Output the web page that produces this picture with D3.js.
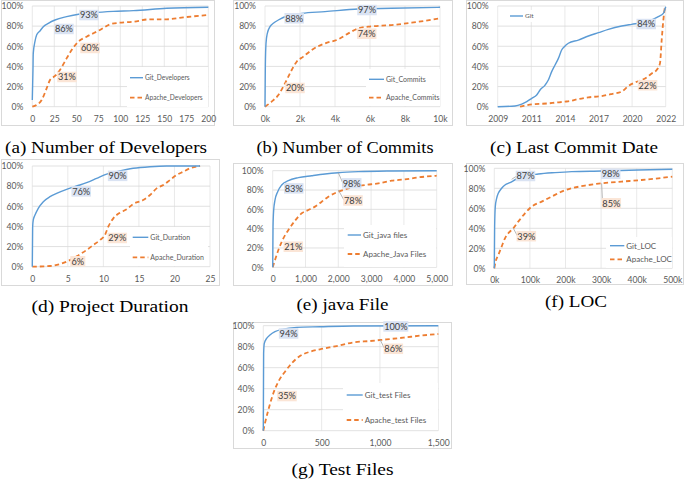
<!DOCTYPE html>
<html><head><meta charset="utf-8">
<script src="https://cdn.jsdelivr.net/npm/d3@7"></script>
<style>body{margin:0;background:#fff}svg{display:block}
.cap{font-family:"Liberation Serif","Times New Roman",serif;font-size:17px;}
</style>
</head><body>
<svg id="c" width="685" height="479"></svg>
<script>
// ---------- DATA (x value, cumulative %) ----------
const gitDevelopers = [[0,6.6],[0.76,36.4],[1.1,53],[3,64.6],[4.9,71.2],[8.7,75.2],[12.5,79.5],[18.2,82.8],[25.8,86.1],[39,89.4],[54.2,92],[69.3,93.4],[92,94.7],[114.8,95.4],[152.7,97.7],[200,98.7]];
const apacheDevelopers = [[0,0],[4.9,1.7],[10.6,6.6],[16.3,18.2],[20.1,26.5],[25.8,30.5],[31.4,36.4],[39,48],[44.7,56.3],[52.3,64.6],[61.7,69.5],[76.9,76.2],[88.3,81.8],[99.6,83.4],[114.8,84.4],[133.7,86.8],[152.7,86.8],[171.6,88.7],[200,91.1]];

const gitCommits = [[0,0],[19,39.7],[57,62.9],[133,72.8],[286,79.5],[476,82.8],[762,86.1],[1238,90.1],[2096,92.7],[3429,94.4],[5334,97],[7239,97.7],[10000,98.7]];
const apacheCommits = [[0,0],[381,5],[762,11.6],[1143,23.2],[1524,36.4],[1810,44.7],[2190,49.7],[2667,56.3],[3429,62.9],[4190,66.9],[4762,72.8],[5333,77.8],[5905,79.5],[7240,81.1],[8380,83.4],[10000,87.7]];

const gitLastCommit = [[2009,0],[2010.03,0.7],[2010.43,2.6],[2010.73,5],[2011.04,8.3],[2011.48,11.6],[2011.78,16.6],[2012.23,21.5],[2012.52,26.5],[2012.82,34.8],[2013.12,41.4],[2013.42,48],[2013.71,56.3],[2013.95,59.6],[2014.31,63],[2015.2,66.2],[2016.1,70.2],[2016.99,73.5],[2017.88,76.8],[2019.07,80.1],[2019.96,81.8],[2020.57,83.4],[2021.17,86.1],[2021.56,89.4],[2021.86,92.7],[2022,99.3]];
const apacheLastCommit = [[2010.33,0],[2011.04,2.3],[2012.52,3.3],[2013.12,4],[2014.01,5],[2014.46,5.6],[2015.2,7.6],[2016.1,9.3],[2017.28,10.6],[2018.17,12.6],[2019.07,15],[2019.66,20.5],[2020.28,24.8],[2020.77,28],[2021.17,33],[2021.46,36.4],[2021.66,43],[2021.76,66],[2021.86,86],[2021.96,100]];

const gitDuration = [[0,0],[0.05,39.7],[0.14,46.4],[0.38,51.3],[0.84,58],[1.55,64.6],[2.49,69.5],[3.42,72.8],[4.83,76.8],[6.24,80.1],[7.64,83.4],[9.05,87.7],[10.46,92],[11.87,94.4],[14.2,97.7],[16.56,99.3],[18.9,100],[23.6,100]];
const apacheDuration = [[0,0],[2.49,0.7],[3.89,2.6],[4.83,5],[5.77,8.3],[6.71,12.3],[7.64,16.6],[8.58,21.5],[9.52,26.5],[10.22,31.5],[10.69,39.7],[11.4,48],[12.33,53.6],[13.27,57],[14.2,62.3],[15.6,66.2],[16.56,71.2],[17.49,77.8],[18.43,81.1],[19.37,86.1],[20.31,91.1],[21.25,94.4],[22.18,97.7],[23.6,100]];

const gitJavaFiles = [[0,0],[10,42],[30,59.3],[71,69.7],[152,78.3],[274,85.2],[478,89.7],[782,92.8],[1189,94.8],[1595,96.6],[2002,97.9],[2611,99],[3627,99.7],[5000,100]];
const apacheJavaFiles = [[0,0],[71,7.6],[173,17.9],[325,30],[478,38.6],[681,48.3],[884,55.9],[1087,59.3],[1290,62.8],[1494,67.9],[1697,73.1],[1951,77.6],[2154,80],[2408,82.8],[2814,85.2],[3221,86.9],[3627,89.7],[4034,91],[4440,93.1],[5000,94.8]];

const gitLOC = [[0,0],[0.94,41.7],[2.8,61.7],[6.6,70],[11.2,75],[20.6,80],[30,83.3],[44,85.7],[62.7,89.3],[86.1,92.3],[123.6,94.3],[170.4,95.7],[217.2,96.7],[301.5,97.3],[404.5,98.3],[500,99]];
const apacheLOC = [[0,0],[3.7,6.7],[11.2,13.3],[20.6,21.7],[30,30],[39.3,35],[53.4,40],[67.4,46.7],[86.1,55],[104.9,61.7],[133,66.7],[161,71.7],[189,76.7],[217,80],[254.7,82.7],[301.5,85],[357.7,86.7],[413.8,88.3],[460.7,90],[500,91.7]];

const gitTestFiles = [[0,0],[2.9,73.7],[8.6,83.2],[28.6,87.9],[57,91.1],[100,94.3],[171,96.8],[286,98.4],[486,99],[771,99.7],[1500,100]];
const apacheTestFiles = [[0,0],[14,7],[43,19.7],[86,35.6],[129,46.7],[186,56.2],[243,64.1],[314,71.1],[400,75.2],[486,77.5],[629,80.6],[771,84.1],[914,85.4],[1057,87],[1200,88.6],[1343,90.5],[1500,92.1]];

// tick values
const yTicks = [0,20,40,60,80,100];
const ticksDevelopers = [0,25,50,75,100,125,150,175,200];
const ticksCommits = [0,2000,4000,6000,8000,10000];
const ticksYears = [2009,2011,2014,2017,2020,2022];
const ticksDuration = [0,5,10,15,20,25];
const ticksJava = [0,1000,2000,3000,4000,5000];
const ticksLOC = [0,100,200,300,400,500];
const ticksTest = [0,500,1000,1500];

// annotation labels: [text, x, y, kind, anchorX, anchorY]
const labelsDevelopers = [["93%",64.4,91,"g"],["86%",36,77.2,"g"],["60%",65.6,58.3,"a"],["31%",39.4,29.5,"a"]];
const labelsCommits = [["88%",1669,87.8,"g"],["97%",5829,96,"g"],["74%",5811,72.5,"a"],["20%",1714,18.6,"a"]];
const labelsLastCommit = [["84%",2020.84,82.1,"g"],["22%",2020.92,21.3,"a"]];
const labelsDuration = [["90%",12,90.2,"g"],["76%",6.88,74.8,"g"],["29%",11.96,28.5,"a"],["6%",6.4,5.4,"a"]];
const labelsJava = [["83%",643,81.7,"g"],["98%",2409,86.9,"g",2000,97.9],["78%",2448,69.2,"a",2000,80],["21%",628,21.3,"a"]];
const labelsLOC = [["87%",87.6,92.3,"g",48.7,89],["98%",327,94.5,"g"],["85%",328.7,65,"a",301.5,85],["39%",90,32.1,"a",53.4,40]];
const labelsTest = [["94%",217,92.6,"g"],["100%",1136,99.3,"g"],["86%",1115,78,"a",1000,87],["35%",203,33,"a"]];

// ---------- LAYOUT ----------
const BLUE = "#5b9bd5", ORANGE = "#ed7d31";
const panels = [
 {frame:[1,0,215,126], L:32.3,R:208.3,B:106.7,T:6, xd:[0,200], xt:ticksDevelopers, fmt:d=>d,
  git:gitDevelopers, apache:apacheDevelopers, names:["Git_Developers","Apache_Developers"],
  leg:{x:130,y:[77.7,97.7],len:13,fs:6.6,box:[127,67,81,40]}, labels:labelsDevelopers,
  cap:["(a) Number of Developers",106,152.5,202]},
 {frame:[233,0,453,126], L:265,R:440,B:106.7,T:6, xd:[0,10000], xt:ticksCommits, fmt:d=>(d/1000)+"k",
  git:gitCommits, apache:apacheCommits, names:["Git_Commits","Apache_Commits"],
  leg:{x:369,y:[79.3,97.7],len:15,fs:7,box:[366,69,74,37]}, labels:labelsCommits,
  cap:["(b) Number of Commits",345,152.5,177]},
 {frame:[466,0,684,126], L:497.7,R:665.7,B:106.7,T:6, xd:ticksYears, xt:ticksYears, fmt:d=>d, poly:true,
  git:gitLastCommit, apache:apacheLastCommit, names:["Git"],
  leg:{x:510,y:[16],len:13,fs:6.5,box:[507,10,36,12]}, labels:labelsLastCommit,
  cap:["(c) Last Commit Date",574,152.5,168]},
 {frame:[1,159,220,286], L:32.3,R:210,B:266.7,T:166, xd:[0,25], xt:ticksDuration, fmt:d=>d,
  git:gitDuration, apache:apacheDuration, names:["Git_Duration","Apache_Duration"],
  leg:{x:132.7,y:[237.3,257.3],len:15.6,fs:7,box:[130,227,78,39]}, labels:labelsDuration,
  cap:["(d) Project Duration",110,311.5,157]},
 {frame:[233,163,453,286], L:272.7,R:436.7,B:267.3,T:170.7, xd:[0,5000], xt:ticksJava, fmt:d3.format(","),
  git:gitJavaFiles, apache:apacheJavaFiles, names:["Git_java files","Apache_Java Files"],
  leg:{x:347.7,y:[235,254],len:13.3,fs:8,box:[344,225,92,42]}, labels:labelsJava,
  cap:["(e) java File",342.5,310,92]},
 {frame:[466,163,684,285], L:494.3,R:672.3,B:268.3,T:168.3, xd:[0,500], xt:ticksLOC, fmt:d=>d+"k",
  git:gitLOC, apache:apacheLOC, names:["Git_LOC","Apache_LOC"],
  leg:{x:610,y:[245.7,259.3],len:14.3,fs:8,box:[606,237,66,31]}, labels:labelsLOC,
  cap:["(f) LOC",576,307,62]},
 {frame:[233,322,452,449], L:263.3,R:438.3,B:430.7,T:325.7, xd:[0,1500], xt:ticksTest, fmt:d3.format(","),
  git:gitTestFiles, apache:apacheTestFiles, names:["Git_test Files","Apache_test Files"],
  leg:{x:346.7,y:[395,420],len:16,fs:8,box:[343,383,95,47]}, labels:labelsTest,
  cap:["(g) Test Files",342.5,475,102]}
];

const svg = d3.select("#c");
const TICKFONT = "Lato, 'Open Sans', sans-serif";

panels.forEach(p => {
  const g = svg.append("g");
  const [fx0,fy0,fx1,fy1] = p.frame;
  g.append("rect").attr("x",fx0+0.5).attr("y",fy0+0.5).attr("width",fx1-fx0-1).attr("height",fy1-fy0-1)
   .attr("fill","#fff").attr("stroke","#d9d9d9").attr("stroke-width",1);

  let x;
  if (p.poly) {
    x = d3.scaleLinear().domain(p.xd).range(p.xd.map((d,i)=>p.L + i*(p.R-p.L)/(p.xd.length-1)));
  } else {
    x = d3.scaleLinear().domain(p.xd).range([p.L,p.R]);
  }
  const y = d3.scaleLinear().domain([0,100]).range([p.B,p.T]);

  // grid
  g.append("g").selectAll("line").data(p.xt).join("line")
    .attr("x1",d=>x(d)).attr("x2",d=>x(d)).attr("y1",p.T).attr("y2",p.B)
    .attr("stroke","#e3e3e3").attr("stroke-width",0.8);
  g.append("g").selectAll("line").data(yTicks).join("line")
    .attr("x1",p.L).attr("x2",p.R).attr("y1",d=>y(d)).attr("y2",d=>y(d))
    .attr("stroke","#d9d9d9").attr("stroke-width",0.8);

  // axes
  const ya = g.append("g").attr("transform",`translate(${p.L},0)`)
    .call(d3.axisLeft(y).tickValues(yTicks).tickFormat(d=>d+"%").tickSize(0).tickPadding(9));
  const xa = g.append("g").attr("transform",`translate(0,${p.B})`)
    .call(d3.axisBottom(x).tickValues(p.xt).tickFormat(p.fmt).tickSize(0).tickPadding(9));
  [ya,xa].forEach(a=>{
    a.select(".domain").remove();
    a.selectAll("text").attr("fill","#595959").style("font-family",TICKFONT).style("font-size","8.6px");
  });

  // series
  const line = d3.line().x(d=>x(d[0])).y(d=>y(d[1])).curve(d3.curveMonotoneX);
  g.append("path").datum(p.apache).attr("d",line).attr("fill","none")
    .attr("stroke",ORANGE).attr("stroke-width",1.8).attr("stroke-dasharray","4.5,3");
  g.append("path").datum(p.git).attr("d",line).attr("fill","none")
    .attr("stroke",BLUE).attr("stroke-width",1.4);

  // legend
  const lg = p.leg;
  g.append("rect").attr("x",lg.box[0]).attr("y",lg.box[1]).attr("width",lg.box[2]).attr("height",lg.box[3]).attr("fill","#fff");
  p.names.forEach((n,i)=>{
    const yy = lg.y[i];
    g.append("line").attr("x1",lg.x).attr("x2",lg.x+lg.len).attr("y1",yy).attr("y2",yy)
      .attr("stroke",i===0?BLUE:ORANGE).attr("stroke-width",i===0?1.4:1.8)
      .attr("stroke-dasharray",i===0?null:"4.5,3");
    g.append("text").attr("x",lg.x+lg.len+2).attr("y",yy).attr("dy","0.35em")
      .attr("fill","#595959").style("font-family",TICKFONT).style("font-size",lg.fs+"px").text(n);
  });

  // annotation labels
  p.labels.forEach(l=>{
    const [t,lx,ly,k,ax,ay] = l;
    const cx = x(lx), cy = y(ly);
    const w = t.length>3 ? 25 : (t.length>2 ? 19.5 : 15), h = 10.5;
    if (ax !== undefined) {
      g.append("line").attr("x1",x(ax)).attr("y1",y(ay)).attr("x2",cx-w/2+1).attr("y2",cy)
        .attr("stroke","#a6a6a6").attr("stroke-width",0.8);
    }
    g.append("rect").attr("x",cx-w/2).attr("y",cy-h/2).attr("width",w).attr("height",h)
      .attr("fill",k==="g"?"#dae3f3":"#fbe5d6");
    g.append("text").attr("x",cx).attr("y",cy).attr("dy","0.36em").attr("text-anchor","middle")
      .attr("fill","#404040").style("font-family",TICKFONT).style("font-size","9.2px").text(t);
  });

  // caption
  const [ct,cxp,cyp,cw] = p.cap;
  g.append("text").attr("class","cap").attr("x",cxp).attr("y",cyp).attr("text-anchor","middle")
    .attr("textLength",cw).attr("lengthAdjust","spacingAndGlyphs")
    .attr("fill","#000").text(ct);
});
</script>
</body></html>
